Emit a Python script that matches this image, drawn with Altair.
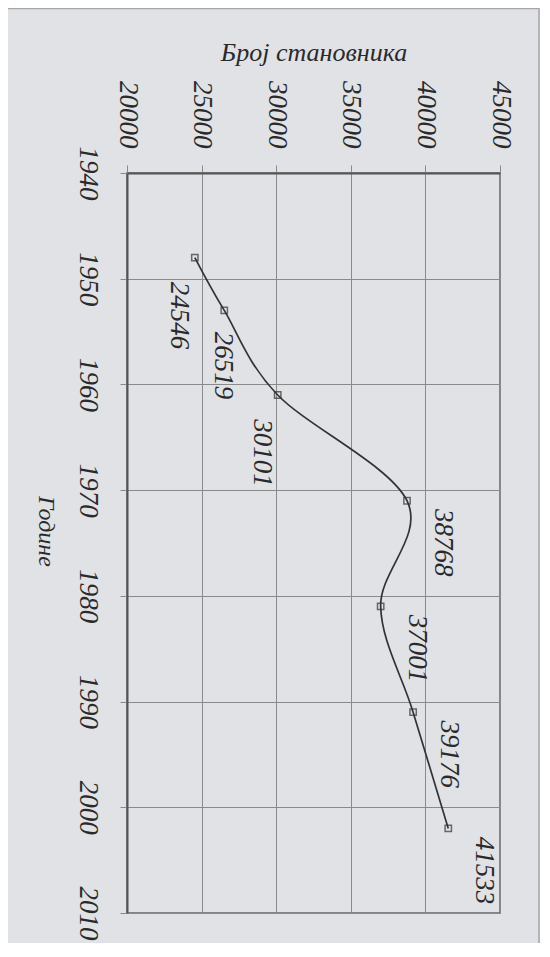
import altair as alt
import pandas as pd

years = [1948, 1953, 1961, 1971, 1981, 1991, 2002]
population = [24546, 26519, 30101, 38768, 37001, 39176, 41533]
pop_ticks = [20000, 25000, 30000, 35000, 40000, 45000]
year_ticks = [1940, 1950, 1960, 1970, 1980, 1990, 2000, 2010]
x_title = "Број становника"
y_title = "Године"

df = pd.DataFrame({"year": years, "population": population})

FONT = "Liberation Serif"
BG = "#e0e2e6"
INK = "#2a2a2a"

x_enc = alt.X(
    "population:Q",
    scale=alt.Scale(domain=[20000, 45000], nice=False, zero=False),
    axis=alt.Axis(
        orient="top", values=pop_ticks, format="d",
        labelAngle=90, labelAlign="right", labelBaseline="middle",
        labelPadding=17, labelFlush=False, labelOverlap=False,
        labelFont=FONT, labelFontStyle="italic", labelFontSize=27, labelColor=INK,
        tickSize=8, tickColor="#8a8a8a",
        grid=True, gridColor="#8a8a8a", gridWidth=1,
        domainColor="#555555", domainWidth=2,
        title=x_title, titleFont=FONT, titleFontStyle="italic", titleFontWeight="normal",
        titleFontSize=26, titleColor=INK, titleAngle=0, titleY=-113,
        titleBaseline="alphabetic", titleAlign="center",
    ),
)
y_enc = alt.Y(
    "year:Q",
    scale=alt.Scale(domain=[1940, 2010], nice=False, zero=False, reverse=True),
    axis=alt.Axis(
        orient="left", values=year_ticks, format="d",
        labelAngle=90, labelAlign="center", labelBaseline="top",
        labelPadding=20, labelFlush=False, labelOverlap=False,
        labelFont=FONT, labelFontStyle="italic", labelFontSize=27, labelColor=INK,
        tickSize=7, tickColor="#8a8a8a",
        grid=True, gridColor="#8a8a8a", gridWidth=1,
        domainColor="#555555", domainWidth=2,
        title=y_title, titleFont=FONT, titleFontStyle="italic", titleFontWeight="normal",
        titleFontSize=24, titleColor=INK, titleAngle=90, titleX=-89, titleY=358,
        titleBaseline="alphabetic", titleAlign="center",
    ),
)

base = alt.Chart(df)

line = base.mark_line(interpolate="cardinal", color="#333333", strokeWidth=1.7).encode(
    x=x_enc, y=y_enc, order="year:Q"
)
points = base.mark_point(shape="square", filled=False, size=40, color="#333333", strokeWidth=1.5).encode(
    x="population:Q", y="year:Q"
)

label_style = dict(angle=90, align="center", baseline="middle", font=FONT,
                   fontStyle="italic", fontSize=27, color=INK, clip=True)
labels_left = base.transform_filter("datum.year < 1950 || (datum.year > 1955 && datum.year < 1965)").mark_text(
    dx=58, dy=16, **label_style
).encode(x="population:Q", y="year:Q", text=alt.Text("population:Q", format="d"))
labels_mid = base.transform_filter("datum.year > 1950 && datum.year < 1955").mark_text(
    dx=55, dy=1, **label_style
).encode(x="population:Q", y="year:Q", text=alt.Text("population:Q", format="d"))
labels_right = base.transform_filter(alt.datum.year > 1965).mark_text(
    dx=42, dy=-36, **label_style
).encode(x="population:Q", y="year:Q", text=alt.Text("population:Q", format="d"))

frame_top = alt.Chart(pd.DataFrame({"k": [0]})).mark_rule(color="#a5a6ab", strokeWidth=1.5).encode(
    x=alt.value(-119), x2=alt.value(412), y=alt.value(-164.5)
)
frame_right = alt.Chart(pd.DataFrame({"k": [0]})).mark_rule(color="#a5a6ab", strokeWidth=1.5).encode(
    x=alt.value(412), y=alt.value(-165), y2=alt.value(790)
)

chart = alt.layer(line, points, labels_left, labels_mid, labels_right, frame_top, frame_right).properties(
    width=373, height=740,
    padding={"left": 119, "top": 165, "right": 40, "bottom": 30},
    autosize=alt.AutoSizeParams(type="none"),
    background=BG,
).configure_view(stroke="#666666", strokeWidth=1.5, fill=BG)

chart.save("out.html", embed_options={"renderer": "svg", "actions": False})
